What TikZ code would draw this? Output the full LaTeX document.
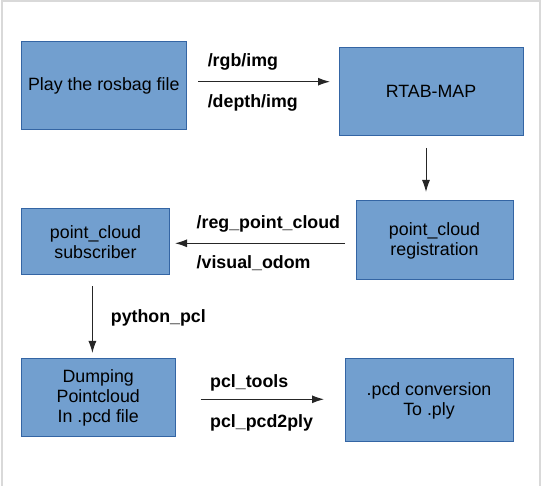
\documentclass[tikz,border=0pt]{standalone}
\usepackage{fontspec}
\setmainfont{Liberation Sans}
\usetikzlibrary{arrows.meta}

\definecolor{boxfill}{HTML}{729FCF}
\definecolor{boxline}{HTML}{3465A4}
\definecolor{framegray}{HTML}{D9D9D9}

\tikzset{
	block/.style={draw=boxline, fill=boxfill, line width=1pt, align=center, inner sep=0pt,
		font=\fontsize{17.8}{20}\selectfont},
	topic/.style={anchor=base west, inner sep=0pt, font=\fontsize{17.8}{20}\selectfont\bfseries},
	flow/.style={-{Latex[length=12pt,width=8pt]}, line width=1pt, black!85},
}

\begin{document}
\begin{tikzpicture}[x=1pt, y=-1pt]
				\useasboundingbox (0,0) rectangle (542,486);
				\draw[framegray, line width=1.5pt] (2,488) -- (2,1) -- (540,1) -- (540,488);
				
				% blocks
				\node[block, minimum width=164.5, minimum height=88] (play) at (103.75,86) {Play the rosbag file};
				\node[block, minimum width=184, minimum height=88] (rtab) at (431,91.7) {RTAB-MAP};
				\node[block, minimum width=157, minimum height=79] (reg) at (434.5,240.5) {point\_cloud\\registration};
				\node[block, minimum width=148, minimum height=66] (sub) at (95.5,242) {point\_cloud\\subscriber};
				\node[block, minimum width=153.5, minimum height=78] (dump) at (98.25,398) {Dumping\\Pointcloud\\In .pcd file};
				\node[block, minimum width=168, minimum height=83] (ply) at (429,400.5) {.pcd conversion\\To .ply};
				
				% arrow ends
				\coordinate (a1s) at (198,81.7);
				\coordinate (a1e) at (330,81.7);
				\coordinate (a2s) at (426,148);
				\coordinate (a2e) at (426,192);
				\coordinate (a3s) at (345,243.3);
				\coordinate (a3e) at (175,243.3);
				\coordinate (a4s) at (92.4,286.5);
				\coordinate (a4e) at (92.4,353);
				\coordinate (a5s) at (200.7,399.3);
				\coordinate (a5e) at (324,399.3);
				
				\draw[flow] (a1s) -- (a1e);
				\draw[flow] (a2s) -- (a2e);
				\draw[flow] (a3s) -- (a3e);
				\draw[flow] (a4s) -- (a4e);
				\draw[flow] (a5s) -- (a5e);
				
				% topics
				\node[topic] (rgb) at (207.6,66.7) {/rgb/img};
				\node[topic] (depth) at (207.6,108) {/depth/img};
				\node[topic] (regpc) at (196.5,229) {/reg\_point\_cloud};
				\node[topic] (odom) at (196.5,269) {/visual\_odom};
				\node[topic] (pypcl) at (110.7,323) {python\_pcl};
				\node[topic] (tools) at (210,387.7) {pcl\_tools};
				\node[topic] (pcd2ply) at (210,428) {pcl\_pcd2ply};
\end{tikzpicture}
\end{document}
